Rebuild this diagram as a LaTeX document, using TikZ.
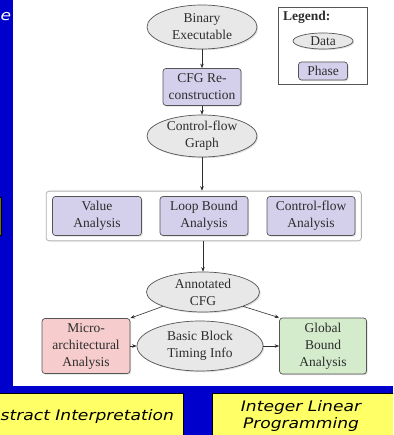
\documentclass[tikz,border=0pt]{standalone}
\usepackage{fontspec}
\setmainfont{Liberation Serif}
\newfontfamily\comicfont[FakeStretch=1.18]{DejaVu Sans}
\usetikzlibrary{shapes.geometric,arrows.meta,shadows,fit}
\definecolor{bgblue}{RGB}{0,0,204}
\definecolor{yel}{RGB}{255,255,102}
\definecolor{datafill}{RGB}{232,232,232}
\definecolor{phasefill}{RGB}{212,208,236}
\definecolor{microfill}{RGB}{246,204,204}
\definecolor{globfill}{RGB}{212,235,204}
\definecolor{edge}{RGB}{85,85,85}
\definecolor{txt}{RGB}{45,45,45}
\definecolor{olivefrag}{RGB}{110,110,40}
\definecolor{grpedge}{RGB}{175,175,175}
\tikzset{
  x=1pt, y=-1pt,
  base/.style={draw=edge, line width=0.7pt, text=txt, align=center, inner sep=0pt,
    font=\fontsize{13.5}{17}\selectfont,
    drop shadow={opacity=0.25, shadow xshift=1.2pt, shadow yshift=-1.2pt}},
  datanode/.style={base, ellipse, fill=datafill},
  phasenode/.style={base, rectangle, rounded corners=3pt, fill=phasefill},
  conn/.style={draw=txt, line width=0.6pt, -{Stealth[length=4.5pt,width=3.5pt]}},
  yelbox/.style={draw=black, line width=0.8pt, fill=yel},
  comictext/.style={font=\comicfont\itshape\fontsize{14.5}{17}\selectfont, text=black, align=center, inner sep=0pt}
}
\begin{document}
\begin{tikzpicture}
\clip (0,0) rectangle (393,435);
\fill[bgblue] (0,0) rectangle (393,435);
\fill[white] (13,0) rectangle (393,386);

% fragments at the left edge
\node[comictext, text=white, anchor=west] (frag) at (0.5,17) {e};
\draw[black, line width=0.8pt, fill=olivefrag] (-30,197) rectangle (1.5,235);

% bottom yellow boxes
\draw[yelbox] (-30,393) rectangle (183,450);
\node[comictext, anchor=west] (ai) at (0.5,416) {stract Interpretation};
\draw[yelbox] (212,393) rectangle (420,450);
\node[comictext] (ilp) at (301,416) {Integer Linear\\Programming};

% legend
\node[draw=edge, line width=0.7pt, fill=white, minimum width=89pt, minimum height=77pt, inner sep=0pt] (legend) at (322.5,45.5) {};
\node[anchor=west, font=\bfseries\fontsize{13.5}{17}\selectfont, text=txt, inner sep=0pt] (legtitle) at (283,17) {Legend:};
\node[datanode, minimum width=60pt, minimum height=16pt] (legdata) at (323,41) {Data};
\node[phasenode, minimum width=49pt, minimum height=18pt] (legphase) at (323,71) {Phase};

% main flow
\node[datanode, minimum width=110pt, minimum height=44pt] (bin) at (202,27) {Binary\\Executable};
\node[phasenode, minimum width=78pt, minimum height=37pt] (cfgr) at (202,87) {CFG Re-\\construction};
\node[datanode, minimum width=110pt, minimum height=42pt] (cfg) at (202,136) {Control-flow\\Graph};

\node[phasenode, minimum width=89pt, minimum height=39pt] (va) at (97,216) {Value\\Analysis};
\node[phasenode, minimum width=88pt, minimum height=39pt] (lb) at (204,216) {Loop Bound\\Analysis};
\node[phasenode, minimum width=88pt, minimum height=39pt] (cf) at (311,216) {Control-flow\\Analysis};
\node[draw=grpedge, line width=0.8pt, rounded corners=3pt, fit=(va)(lb)(cf), inner xsep=6pt, inner ysep=5pt] (grp) {};

\node[datanode, minimum width=113pt, minimum height=40pt] (ann) at (203,292) {Annotated\\CFG};
\node[phasenode, fill=microfill, minimum width=88pt, minimum height=55pt] (micro) at (86,346) {Micro-\\architectural\\Analysis};
\node[datanode, minimum width=126pt, minimum height=50pt] (bbti) at (200,346) {Basic Block\\Timing Info};
\node[phasenode, fill=globfill, minimum width=87pt, minimum height=56pt] (glob) at (323,346) {Global\\Bound\\Analysis};

\draw[conn] (bin) -- (cfgr);
\draw[conn] (cfgr) -- (cfg);
\draw[conn] (cfg.south) -- (grp.north -| cfg.south);
\draw[conn] (grp.south -| ann.north) -- (ann.north);
\draw[conn] (ann.south west) -- (micro.north east);
\draw[conn] (ann.south east) -- (glob.north west);
\draw[conn] (micro.east) -- (bbti.west);
\draw[conn] (bbti.east) -- (glob.west);
\end{tikzpicture}
\end{document}
